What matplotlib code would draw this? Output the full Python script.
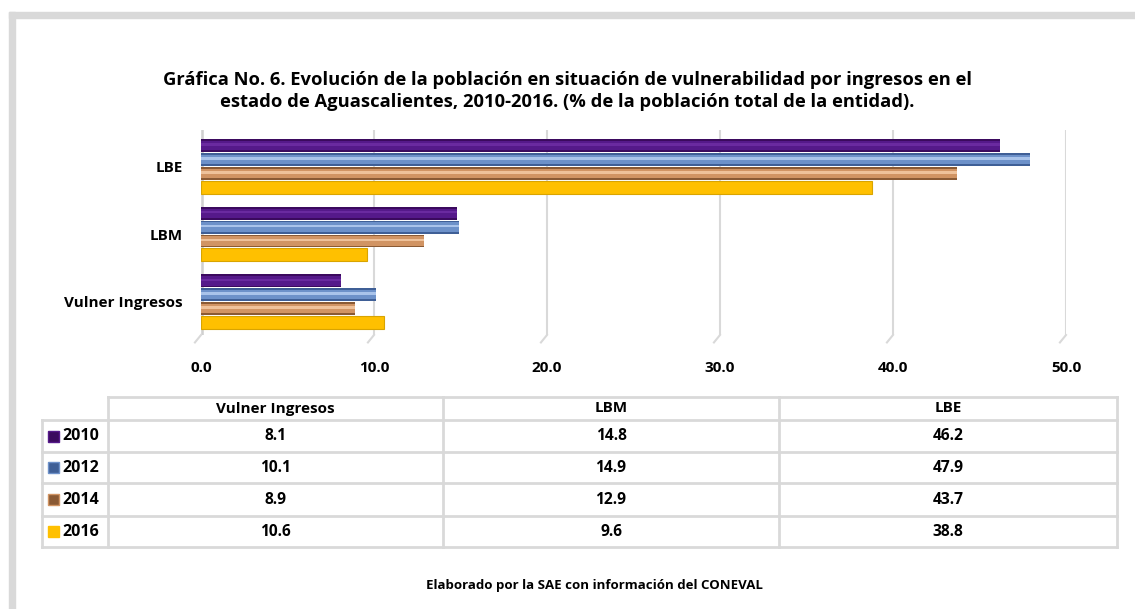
import matplotlib
matplotlib.use("Agg")
import matplotlib.pyplot as plt
import numpy as np
from matplotlib.patches import Rectangle
from matplotlib.lines import Line2D

plt.rcParams['font.family'] = ['Open Sans', 'DejaVu Sans']

categories = ['Vulner Ingresos', 'LBM', 'LBE']
years = ['2010', '2012', '2014', '2016']
v2010 = [8.1, 14.8, 46.2]
v2012 = [10.1, 14.9, 47.9]
v2014 = [8.9, 12.9, 43.7]
v2016 = [10.6, 9.6, 38.8]
series = [v2010, v2012, v2014, v2016]

# dark, mid, light per series (emulating the cylinder shading)
shades = [
    ('#3b0a5e', '#55198a', '#6a2aa0'),
    ('#3f5f96', '#6d91c9', '#a9c3ea'),
    ('#8a5a34', '#d19463', '#efc29a'),
    ('#d9a400', '#ffc000', '#ffc000'),
]
offsets = [0.31, 0.105, -0.10, -0.305]
bar_h = 0.19

W, H = 1135, 609
fig = plt.figure(figsize=(W / 100, H / 100), dpi=100)

# outer gray frame
fig.patches.append(Rectangle((9 / W, 0), 6 / W, 1 - 12 / H, transform=fig.transFigure,
                             color='#d9d9d9', zorder=0))
fig.patches.append(Rectangle((9 / W, 1 - 18 / H), 1, 6 / H, transform=fig.transFigure,
                             color='#d9d9d9', zorder=0))

fig.text(0.5, 1 - 91 / H,
         'Gráfica No. 6. Evolución de la población en situación de vulnerabilidad por ingresos en el\n'
         'estado de Aguascalientes, 2010-2016. (% de la población total de la entidad).',
         ha='center', va='center', fontsize=13.2, fontweight='bold', linespacing=1.3)

ax = fig.add_axes([201 / W, 1 - 335 / H, 865 / W, 205 / H])
y = np.arange(len(categories))
for vals, off, (dk, md, lt), yr in zip(series, offsets, shades, years):
    if yr == '2016':
        ax.barh(y + off, vals, height=bar_h, color=md, edgecolor=dk, linewidth=0.8, zorder=3)
    else:
        ax.barh(y + off, vals, height=bar_h, color=dk, linewidth=0, zorder=3)
        ax.barh(y + off, vals, height=bar_h * 0.72, color=md, linewidth=0, zorder=4)
        ax.barh(y + off + bar_h * 0.08, vals, height=bar_h * 0.2, color=lt, linewidth=0, zorder=5)

ax.set_xlim(0, 50)
ax.set_ylim(-0.49, 2.54)
ax.set_xticks(np.arange(0, 51, 10))
ax.set_xticklabels([f'{t:.1f}' for t in np.arange(0, 51, 10)], fontsize=11, fontweight='bold')
ax.set_yticks(y)
ax.set_yticklabels(categories, fontsize=11, fontweight='bold')
ax.tick_params(axis='x', length=0, pad=19)
ax.tick_params(axis='y', length=0, pad=13)
for s in ax.spines.values():
    s.set_visible(False)
ax.grid(axis='x', color='#d9d9d9', linewidth=1.5, zorder=0)
ax.axvline(0, color='#d0d0d0', linewidth=4, zorder=1)
# small 3D floor feet on the gridlines
for t in np.arange(0, 51, 10):
    ax.plot([t, t - 0.35], [-0.49, -0.60], color='#d9d9d9', linewidth=1.5, clip_on=False)

# data table
col_x = [42, 108, 443, 779, 1117]
row_y = [397, 420, 452, 483, 516, 547]
gray = '#d9d9d9'


def fx(px):
    return px / W


def fy(py):
    return 1 - py / H


lines = []
# header row (no legend cell)
lines.append(([col_x[1], col_x[-1]], [row_y[0], row_y[0]]))
for r in row_y[1:]:
    lines.append(([col_x[0], col_x[-1]], [r, r]))
lines.append(([col_x[0], col_x[0]], [row_y[1], row_y[-1]]))
for c in col_x[1:]:
    lines.append(([c, c], [row_y[0], row_y[-1]]))
for xs, ys in lines:
    fig.add_artist(Line2D([fx(v) for v in xs], [fy(v) for v in ys], color=gray, linewidth=2))

for j, cat in enumerate(categories):
    cx = (col_x[j + 1] + col_x[j + 2]) / 2
    fig.text(fx(cx), fy((row_y[0] + row_y[1]) / 2), cat, ha='center', va='center',
             fontsize=11, fontweight='bold')

for i, (yr, vals, (dk, md, lt)) in enumerate(zip(years, series, shades)):
    cy = (row_y[i + 1] + row_y[i + 2]) / 2
    fig.patches.append(Rectangle((fx(48), fy(cy + 5.5)), 11 / W, 11 / H, transform=fig.transFigure,
                                 facecolor=md if yr == '2016' else dk, edgecolor=md, linewidth=1))
    fig.text(fx(62), fy(cy), yr, ha='left', va='center', fontsize=11.5, fontweight='bold')
    for j, v in enumerate(vals):
        cx = (col_x[j + 1] + col_x[j + 2]) / 2
        fig.text(fx(cx), fy(cy), f'{v:.1f}', ha='center', va='center', fontsize=11.2,
                 fontweight='bold')

fig.text(fx(594), fy(585), 'Elaborado por la SAE con información del CONEVAL',
         ha='center', va='center', fontsize=9.5, fontweight='bold')

fig.savefig('out.png', dpi=100)
